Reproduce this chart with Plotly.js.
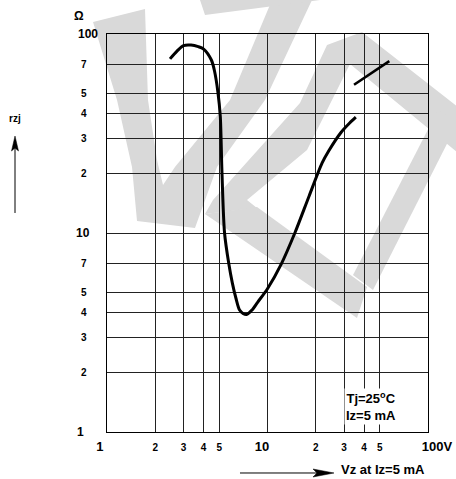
<!DOCTYPE html>
<html>
<head>
<meta charset="utf-8">
<script src="https://cdn.plot.ly/plotly-3.0.1.min.js"></script>
<style>html,body{margin:0;padding:0;background:#fff;}#chart{width:456px;height:479px;}</style>
</head>
<body>
<div id="chart"></div>
<script>
// ---- data ----
var mainCurveV  = [2.47, 2.73, 3.0, 3.34, 3.7, 4.0, 4.47, 4.68, 4.91, 5.08, 5.2, 5.4, 5.74, 6.04, 6.36, 6.7, 7.07, 7.45, 8.0, 8.7, 10, 12.2, 14.8, 18.2, 21.9, 24.1, 28.7, 32.5, 35.5];
var mainCurveR  = [75, 82, 87.5, 88, 86.4, 84, 74, 65, 51, 38.6, 20.5, 10, 7, 5.6, 4.7, 4.1, 3.93, 3.9, 4.1, 4.5, 5.25, 7.0, 10, 15.4, 22.5, 25.9, 32, 35.7, 38.2];
var upperSegV   = [34.6, 57.4];
var upperSegR   = [55.6, 73];
var xTickVals   = [1, 2, 3, 4, 5, 10, 20, 30, 40, 50, 100];
var xTickText   = ['1', '2', '3', '4', '5', '10', '2', '3', '4', '5', '100V'];
var yTickVals   = [1, 2, 3, 4, 5, 7, 10, 20, 30, 40, 50, 70, 100];
var yTickText   = ['1', '2', '3', '4', '5', '7', '10', '2', '3', '4', '5', '7', '100'];
var noteText    = 'Tj=25<sup>o</sup>C<br>Iz=5 mA';
var xAxisText   = 'Vz at Iz=5 mA';
var yAxisText   = 'rzj';
var yUnitText   = '\u03A9';

// ---- layout helpers ----
var W = 456, H = 479, ML = 107, MR = 28, MT = 34, MB = 47;
var PW = W - ML - MR, PH = H - MT - MB;
function px(x) { return (x - ML) / PW; }
function py(y) { return (H - MB - y) / PH; }
function poly(pts, close) {
  return 'M' + pts.map(function (p) { return px(p[0]).toFixed(4) + ',' + py(p[1]).toFixed(4); }).join('L') + (close === false ? '' : 'Z');
}
var FONT = 'Liberation Sans, Arial, sans-serif';
var WM = '#d9d9d9';
var watermark = [
  [[93,22],[145,9],[148,100],[157,160],[163,185],[175,167],[230,100],[272,0],[312,0],[265,100],[217,167],[195,228],[137,221],[132,167],[117,100]],
  [[200,0],[320,0],[205,15]],
  [[327,45],[362,32],[458,107],[458,153],[350,64],[307,150],[247,200],[257,208],[205,214],[213,200],[300,103]],
  [[205,214],[257,207],[367,287],[357,318]],
  [[353,275],[373,290],[458,122],[438,110]]
];
var shapes = watermark.map(function (p) {
  return {type: 'path', xref: 'paper', yref: 'paper', layer: 'below', path: poly(p),
          fillcolor: WM, line: {width: 0}};
});
// axis-direction arrows (left: up, bottom: right)
shapes.push({type: 'path', xref: 'paper', yref: 'paper', path: poly([[15,213],[15,146]], false),
  line: {color: '#000', width: 1}});
shapes.push({type: 'path', xref: 'paper', yref: 'paper', path: poly([[15,136],[18.5,151],[15,148],[11.5,151]]),
  fillcolor: '#000', line: {color: '#000', width: 0.5}});
shapes.push({type: 'path', xref: 'paper', yref: 'paper', path: poly([[240,473],[322,473]], false),
  line: {color: '#000', width: 1}});
shapes.push({type: 'path', xref: 'paper', yref: 'paper', path: poly([[334,473],[313,469],[317,473],[313,477]]),
  fillcolor: '#000', line: {color: '#000', width: 0.5}});

var NB = '\u00a0';
var xTickLabels = xTickText.map(function (t, i) {
  if (t === '1' && i === 0) return '<span style="font-size:13px">1' + NB + NB + NB + NB + '</span>';
  if (t === '10') return '<span style="font-size:13px">10' + NB + NB + NB + '</span>';
  if (t === '100V') return '<span style="font-size:13px">' + NB + NB + NB + NB + NB + '100V</span>';
  return t;
});

var annotations = [];
yTickVals.forEach(function (v, i) {
  var t = yTickText[i];
  var isBig = t.length > 1 || t === '1';
  var left = t === '100' ? 77 : (t === '10' ? 75 : (t === '1' ? 76 : 80));
  annotations.push({xref: 'paper', yref: 'y', x: px(left), y: Math.log10(v), xanchor: 'left', yanchor: 'middle',
    text: t, showarrow: false, borderpad: 0,
    font: {family: FONT, size: isBig ? 12 : 10, color: '#000', weight: 'bold'}});
});
annotations.push({xref: 'paper', yref: 'paper', x: px(78.5), y: py(16), xanchor: 'center', yanchor: 'middle',
  text: yUnitText, showarrow: false, borderpad: 0,
  font: {family: FONT, size: 12, color: '#000', weight: 'bold'}});
annotations.push({xref: 'paper', yref: 'paper', x: px(8), y: py(118), xanchor: 'left', yanchor: 'middle',
  text: yAxisText, showarrow: false, borderpad: 0,
  font: {family: FONT, size: 10, color: '#000', weight: 'bold'}});
annotations.push({xref: 'paper', yref: 'paper', x: px(340), y: py(478.5), xanchor: 'left', yanchor: 'bottom',
  text: xAxisText, showarrow: false, borderpad: 0,
  font: {family: FONT, size: 13, color: '#000', weight: 'bold'}});
annotations.push({xref: 'paper', yref: 'paper', x: px(371), y: py(406), xanchor: 'center', yanchor: 'middle',
  text: noteText, showarrow: false, bgcolor: '#fff', borderpad: 1,
  font: {family: FONT, size: 13, color: '#000', weight: 'bold'}});

var traces = [
  {x: mainCurveV, y: mainCurveR, type: 'scatter', mode: 'lines',
   line: {color: '#000', width: 3, shape: 'spline', smoothing: 0.8}, hoverinfo: 'skip'},
  {x: upperSegV, y: upperSegR, type: 'scatter', mode: 'lines',
   line: {color: '#000', width: 2.6}, hoverinfo: 'skip'}
];

var axisCommon = {type: 'log', range: [0, 2], showgrid: true, gridcolor: '#222', gridwidth: 1,
  showline: true, mirror: true, linecolor: '#000', linewidth: 1, zeroline: false, ticks: '', fixedrange: true};

var layout = {
  width: W, height: H,
  margin: {l: ML, r: MR, t: MT, b: MB, pad: 0},
  paper_bgcolor: '#fff', plot_bgcolor: 'rgba(0,0,0,0)',
  showlegend: false,
  font: {family: FONT, color: '#000'},
  xaxis: Object.assign({}, axisCommon, {tickmode: 'array', tickvals: xTickVals, ticktext: xTickLabels,
    tickfont: {family: FONT, size: 10, color: '#000', weight: 'bold'}, ticklabelstandoff: 6}),
  yaxis: Object.assign({}, axisCommon, {tickmode: 'array', tickvals: yTickVals, showticklabels: false}),
  shapes: shapes,
  annotations: annotations
};

Plotly.newPlot('chart', traces, layout, {staticPlot: true, displayModeBar: false});
</script>
</body>
</html>
